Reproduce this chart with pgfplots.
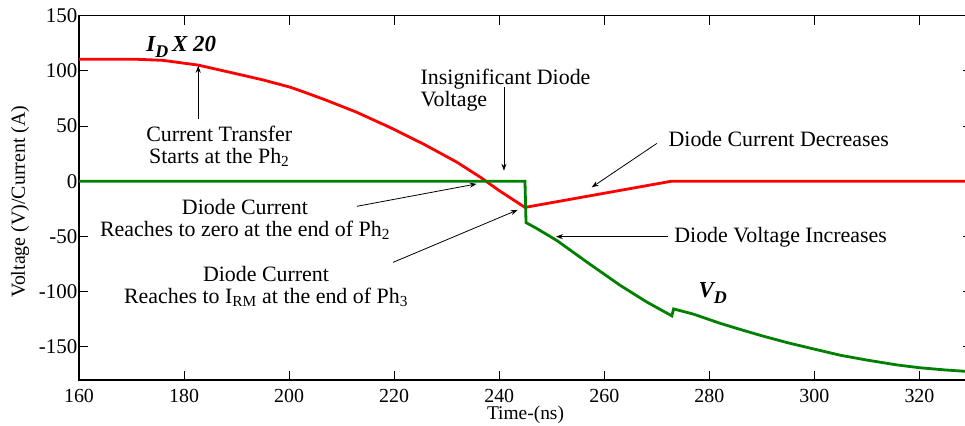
\documentclass[border=0pt]{standalone}
\usepackage{pgfplots}
\pgfplotsset{compat=1.18}
\usepackage{fontspec}
\setmainfont{Liberation Serif}
\usetikzlibrary{arrows.meta}
\definecolor{mgreen}{RGB}{0,128,0}

\pgfplotstableread{
t v
160 110.5
171 110.5
176 109.5
182.7 105.2
190 97.3
195 91.8
200.2 85.2
203 80.5
207 73.5
212.8 62.6
219.2 48.7
225.6 33.6
231.9 17.3
236.5 3.3
240 -8.6
244.9 -23.8
272.85 0
330 0
}\idtable

\pgfplotstableread{
t v
160 0
244.9 0
245.1 -37.6
247 -42.5
251 -53.9
256.7 -73.4
263 -94.4
268.1 -109.6
272.85 -122.1
273.2 -115.8
277 -120.6
282 -128.8
286 -134.6
290 -140.2
295 -146.6
300.1 -152.4
305 -157.9
310 -162.2
315.7 -166.6
320.1 -169.2
325 -171.2
328.7 -172.4
}\vdtable

\tikzset{ann/.style={font=\fontsize{22}{22}\selectfont, align=center, inner sep=0pt},
  arr/.style={-{Stealth[length=7bp,width=5bp]}, line width=0.8bp, black}}

\begin{document}
\begin{tikzpicture}
\begin{axis}[
  scale only axis, width=893bp, height=364bp,
  xmin=160, xmax=330, ymin=-180, ymax=150,
  xtick={160,180,...,320}, ytick={-150,-100,...,150},
  tick align=inside, major tick length=9bp,
  tick style={line width=0.9bp, black},
  axis line style={line width=1.6bp},
  /pgf/number format/assume math mode=true,
  tick label style={font=\fontsize{21}{21}\selectfont},
  yticklabel style={inner sep=1.5bp},
  xticklabel style={font=\fontsize{20}{20}\selectfont, inner sep=0pt, yshift=-9bp},
  xlabel={Time-(ns)}, ylabel={Voltage (V)/Current (A)},
  xlabel style={font=\fontsize{19.5}{19.5}\selectfont, at={(axis description cs:0.5,-0.0975)}, anchor=center},
  ylabel style={font=\fontsize{20}{20}\selectfont, at={(axis description cs:-0.066,0.489)}, anchor=center},
  clip=false,
]
\coordinate (bl) at (rel axis cs:0,0);
\coordinate (tr) at (rel axis cs:1,1);

\addplot[red, line width=2.8bp] table[x=t, y=v] {\idtable};
\addplot[mgreen, line width=2.8bp] table[x=t, y=v] {\vdtable};

\node[anchor=base west, inner sep=0pt, font=\fontsize{23}{23}\selectfont\bfseries\itshape] at (axis cs:172.8,117.3) {I\raisebox{-6bp}{\fontsize{18}{18}\selectfont D}\,X 20};
\node[anchor=base west, inner sep=0pt, font=\fontsize{23}{23}\selectfont\bfseries\itshape] at (axis cs:277.9,-105.5) {V\raisebox{-6bp}{\fontsize{18}{18}\selectfont D}};

\node[ann] at (axis cs:186.7,31.3) {Current Transfer\\Starts at the Ph\textsubscript{2}};
\draw[arr] (axis cs:182.7,56.3) -- (axis cs:182.7,104.6);

\node[ann, align=left, anchor=west] at (axis cs:225.0,82.9) {Insignificant Diode\\Voltage};
\draw[arr] (axis cs:240.9,85) -- (axis cs:240.9,9.5);

\node[ann, anchor=west] at (axis cs:272.2,38.5) {Diode Current Decreases};
\draw[arr] (axis cs:270.0,34.2) -- (axis cs:257.6,-5.6);

\node[ann, anchor=west] at (axis cs:273.3,-51.2) {Diode Voltage Increases};
\draw[arr] (axis cs:272.2,-50.3) -- (axis cs:250.8,-50.3);

\node[ann] at (axis cs:191.6,-34.9) {Diode Current\\Reaches to zero at the end of Ph\textsubscript{2}};
\draw[arr] (axis cs:212.9,-22.8) -- (axis cs:235.7,-2.5);

\node[ann] at (axis cs:195.6,-95.6) {Diode Current\\Reaches to I\textsubscript{RM} at the end of Ph\textsubscript{3}};
\draw[arr] (axis cs:219.8,-73.6) -- (axis cs:243.5,-26.1);
\end{axis}
\pgfresetboundingbox
\path[use as bounding box] ([xshift=-79bp,yshift=-46bp]bl) rectangle ([xshift=-7bp,yshift=15.7bp]tr);
\end{tikzpicture}
\end{document}
